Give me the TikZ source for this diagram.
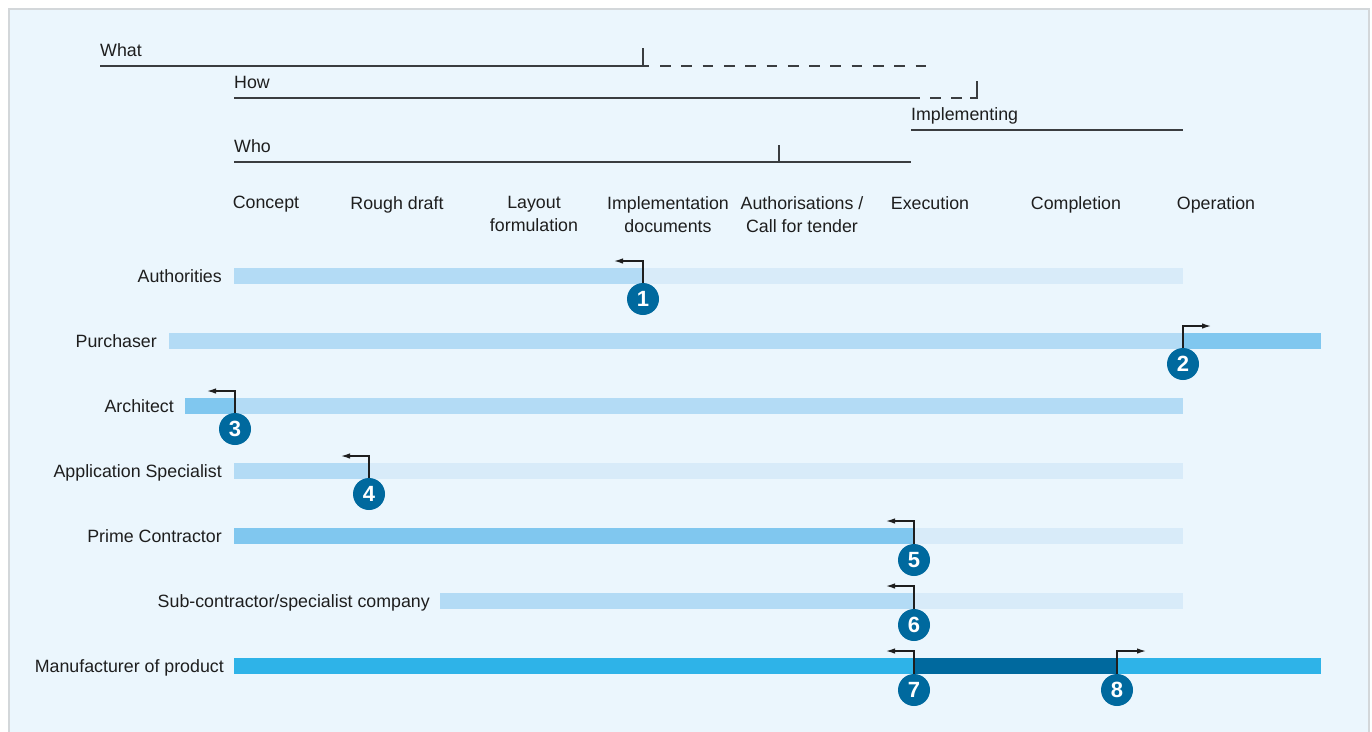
\documentclass[tikz,border=0pt]{standalone}
\usepackage{fontspec}
\setmainfont{Liberation Sans}
\usetikzlibrary{arrows.meta}
\definecolor{Ink}{HTML}{1E1E1E}
\definecolor{Rule}{HTML}{3A3D40}
\definecolor{Back}{HTML}{EBF6FD}
\definecolor{Frame}{HTML}{D3D7DA}
\definecolor{BarPale}{HTML}{D8EBF9}
\definecolor{BarLight}{HTML}{B3DBF5}
\definecolor{BarMid}{HTML}{80C7EF}
\definecolor{BarBright}{HTML}{2EB3E8}
\definecolor{BarDark}{HTML}{00699E}
\definecolor{Marker}{HTML}{00699E}
\definecolor{White}{HTML}{FFFFFF}
\tikzset{
    toplabel/.style={anchor=base west, inner sep=0pt, text=Ink, font=\fontsize{17.8}{20}\selectfont},
    phase/.style={anchor=north, align=center, inner sep=0pt, text=Ink, font=\fontsize{17.8}{23}\selectfont},
    rowlabel/.style={anchor=base east, inner sep=0pt, text=Ink, font=\fontsize{17.8}{20}\selectfont},
    bracket/.style={draw=Rule, line width=1.3pt},
    gapline/.style={bracket, dash pattern=on 10.7pt off 10.6pt},
    marker/.style={circle, fill=Marker, text=White, inner sep=0pt, minimum size=32pt, font=\bfseries\fontsize{22}{22}\selectfont},
    markerarrow/.style={draw=Ink, line width=1.3pt, -{Latex[length=9pt,width=5.5pt]}},
}

\begin{document}
\begin{tikzpicture}[x=1pt, y=-1pt]

            \useasboundingbox (0,0) rectangle (1372,731);
            \clip (0,0) rectangle (1372,731);

            % Sfondo e cornice
            \fill[White] (0,0) rectangle (1372,731);
            \filldraw[fill=Back, draw=Frame, line width=2pt] (9,9) rectangle (1369,745);

            % What / How / Who / Implementing
            \node[toplabel] (what) at (100,56) {What};
            \draw[bracket] (100,66) -- (649,66);
            \draw[bracket] (643,66) -- (643,48);
            \draw[gapline] (660,66) -- (927,66);

            \node[toplabel] (how) at (234,88) {How};
            \draw[bracket] (234,98) -- (920,98);
            \draw[gapline] (930,98) -- (962,98);
            \draw[bracket] (970,98) -| (977,81);

            \node[toplabel] (implementing) at (911,120) {Implementing};
            \draw[bracket] (911,130) -- (1183,130);

            \node[toplabel] (who) at (234,152) {Who};
            \draw[bracket] (234,162) -- (911,162);
            \draw[bracket] (779,162) -- (779,145);

            % Fasi
            \foreach \x/\t/\n in {266/Concept/concept, 397/{Rough draft}/draft,
                534/{Layout\\formulation}/layout, 668/{Implementation\\documents}/docs,
                802/{Authorisations /\\Call for tender}/tender, 930/Execution/execution,
                1076/Completion/completion, 1216/Operation/operation}
                \node[phase] (\n) at (\x,196) {\t};

            % Authorities
            \node[rowlabel] (authorities) at (222,282) {Authorities};
            \fill[BarLight] (234,268) rectangle (643,284);
            \fill[BarPale] (643,268) rectangle (1183,284);

            % Purchaser
            \node[rowlabel] (purchaser) at (157,347) {Purchaser};
            \fill[BarLight] (169,333) rectangle (1183,349);
            \fill[BarMid] (1183,333) rectangle (1321,349);

            % Architect
            \node[rowlabel] (architect) at (174,412) {Architect};
            \fill[BarMid] (185,398) rectangle (235,414);
            \fill[BarLight] (235,398) rectangle (1183,414);

            % Application Specialist
            \node[rowlabel] (specialist) at (222,477) {Application Specialist};
            \fill[BarLight] (234,463) rectangle (369,479);
            \fill[BarPale] (369,463) rectangle (1183,479);

            % Prime Contractor
            \node[rowlabel] (prime) at (222,542) {Prime Contractor};
            \fill[BarMid] (234,528) rectangle (914,544);
            \fill[BarPale] (914,528) rectangle (1183,544);

            % Sub-contractor
            \node[rowlabel] (sub) at (430,607) {Sub-contractor/specialist company};
            \fill[BarLight] (440,593) rectangle (914,609);
            \fill[BarPale] (914,593) rectangle (1183,609);

            % Manufacturer
            \node[rowlabel] (manufacturer) at (224,672) {Manufacturer of product};
            \fill[BarBright] (234,658) rectangle (914,674);
            \fill[BarDark] (914,658) rectangle (1118,674);
            \fill[BarBright] (1118,658) rectangle (1321,674);

            % Marcatori numerati con frecce
            \node[marker] (m1) at (643,299) {1};
            \coordinate (a1) at (614,261);
            \draw[markerarrow] (m1.north) |- (a1);

            \node[marker] (m2) at (1183,364) {2};
            \coordinate (a2) at (1211,326);
            \draw[markerarrow] (m2.north) |- (a2);

            \node[marker] (m3) at (235,429) {3};
            \coordinate (a3) at (207,391);
            \draw[markerarrow] (m3.north) |- (a3);

            \node[marker] (m4) at (369,494) {4};
            \coordinate (a4) at (341,456);
            \draw[markerarrow] (m4.north) |- (a4);

            \node[marker] (m5) at (914,560) {5};
            \coordinate (a5) at (886,521);
            \draw[markerarrow] (m5.north) |- (a5);

            \node[marker] (m6) at (914,625) {6};
            \coordinate (a6) at (886,586);
            \draw[markerarrow] (m6.north) |- (a6);

            \node[marker] (m7) at (914,690) {7};
            \coordinate (a7) at (886,651);
            \draw[markerarrow] (m7.north) |- (a7);

            \node[marker] (m8) at (1117,690) {8};
            \coordinate (a8) at (1146,651);
            \draw[markerarrow] (m8.north) |- (a8);

\end{tikzpicture}
\end{document}
